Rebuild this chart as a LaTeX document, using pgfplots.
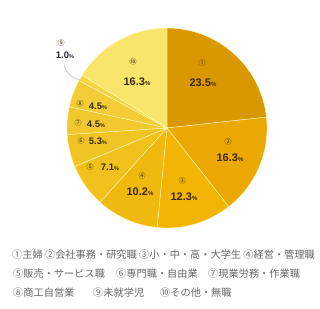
\documentclass[border=0pt]{standalone}
\usepackage{pgfplots}
\pgfplotsset{compat=1.18}
\usepackage{fontspec}
\setmainfont{Liberation Sans}
\newfontfamily\cjk{Noto Sans CJK JP}
\definecolor{c1}{HTML}{DA9800}
\definecolor{c2}{HTML}{ECA802}
\definecolor{c3}{HTML}{F2B505}
\definecolor{c4}{HTML}{F0B90E}
\definecolor{c5}{HTML}{F0C01C}
\definecolor{c6}{HTML}{F1C426}
\definecolor{c7}{HTML}{F2C830}
\definecolor{c8}{HTML}{F3CC38}
\definecolor{c9}{HTML}{F5D448}
\definecolor{c10}{HTML}{F9E46C}
\definecolor{txt}{HTML}{3A2A00}
\definecolor{leg}{HTML}{686868}
\newcommand\pbig[1]{\fontsize{11}{11}\selectfont\bfseries #1\fontsize{6}{6}\selectfont\%}
\newcommand\pmid[1]{\fontsize{9.5}{10}\selectfont\bfseries #1\fontsize{5.5}{6}\selectfont\%}
\newcommand\cn[1]{\fontsize{7}{7}\selectfont\cjk #1}
\newcommand\legtxt[1]{\fontsize{10.2}{10}\selectfont\cjk #1}
\begin{document}
\begin{tikzpicture}
\begin{axis}[scale only axis, width=320pt, height=308pt,
  xmin=0, xmax=320, ymin=-308, ymax=0, hide axis, clip=false]
\path (axis cs:0,0) rectangle (axis cs:320,-308);
\def\cx{167}\def\cy{-128}\def\r{100}
\def\total{101.0}
\gdef\curang{90}
\foreach \v/\c in {23.5/c1, 16.3/c2, 12.3/c3, 10.2/c4, 7.1/c5, 5.3/c6, 4.5/c7, 4.5/c8, 1.0/c9, 16.3/c10}{
  \pgfmathsetmacro{\e}{\curang - 360*\v/\total}
  \edef\temp{\noexpand\fill[\c, draw=white!70!yellow, line width=0.4pt] (axis cs:\cx,\cy) -- ++(\curang:\r pt) arc[start angle=\curang, end angle=\e, radius=\r pt] -- cycle;}
  \temp
  \xdef\curang{\e}
}
% labels
\node[txt] at (axis cs:202,-63) {\cn{①}};
\node[txt] at (axis cs:203,-83) {\pbig{23.5}};
\node[txt] at (axis cs:133,-62) {\cn{⑩}};
\node[txt] at (axis cs:137,-82) {\pbig{16.3}};
\node[txt] at (axis cs:228,-142) {\cn{②}};
\node[txt] at (axis cs:230,-158) {\pbig{16.3}};
\node[txt] at (axis cs:182,-181) {\cn{③}};
\node[txt] at (axis cs:184,-197) {\pbig{12.3}};
\node[txt] at (axis cs:142,-176) {\cn{④}};
\node[txt] at (axis cs:140,-192) {\pbig{10.2}};
\node[txt] at (axis cs:90,-167) {\cn{⑤}};
\node[txt] at (axis cs:110,-167) {\pmid{7.1}};
\node[txt] at (axis cs:81,-141) {\cn{⑥}};
\node[txt] at (axis cs:98,-141) {\pmid{5.3}};
\node[txt] at (axis cs:78,-123) {\cn{⑦}};
\node[txt] at (axis cs:96,-124) {\pmid{4.5}};
\node[txt] at (axis cs:80,-104) {\cn{⑧}};
\node[txt] at (axis cs:98,-106) {\pmid{4.5}};
\node[txt] at (axis cs:61,-43) {\cn{⑨}};
\node[txt!80!blue] at (axis cs:65,-55) {\pmid{1.0}};
\draw[gray!50, line width=0.6pt] (axis cs:64,-64) .. controls (axis cs:66,-74) and (axis cs:72,-78) .. (axis cs:80,-80);
% legend
\node[leg, anchor=west, inner sep=0pt] at (axis cs:12,-255) {\legtxt{①主婦 ②会社事務・研究職 ③小・中・高・大学生 ④経営・管理職}};
\node[leg, anchor=west, inner sep=0pt] at (axis cs:13,-274) {\legtxt{⑤販売・サービス職}};
\node[leg, anchor=west, inner sep=0pt] at (axis cs:116,-274) {\legtxt{⑥専門職・自由業}};
\node[leg, anchor=west, inner sep=0pt] at (axis cs:208,-274) {\legtxt{⑦現業労務・作業職}};
\node[leg, anchor=west, inner sep=0pt] at (axis cs:13,-293) {\legtxt{⑧商工自営業}};
\node[leg, anchor=west, inner sep=0pt] at (axis cs:93,-293) {\legtxt{⑨未就学児}};
\node[leg, anchor=west, inner sep=0pt] at (axis cs:160,-293) {\legtxt{⑩その他・無職}};
\end{axis}
\end{tikzpicture}
\end{document}
